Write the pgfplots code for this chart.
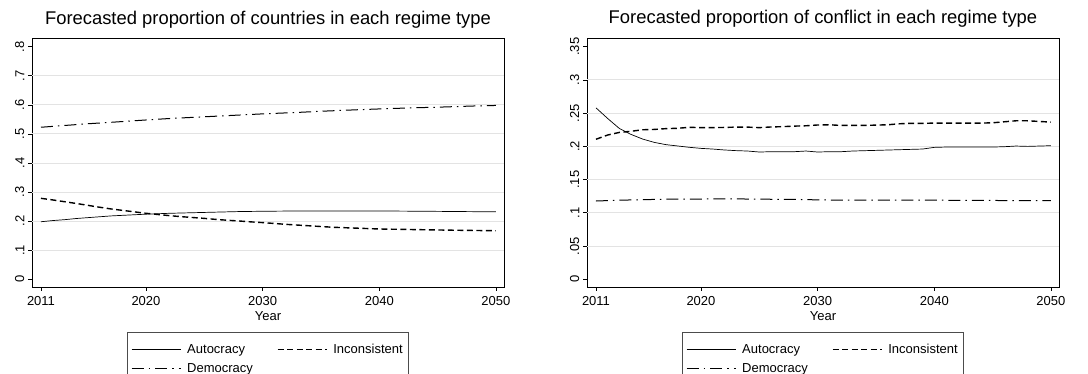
\documentclass[border=0pt]{standalone}
\usepackage{pgfplots}
\pgfplotsset{compat=1.18}
\usepackage{fontspec}
\setmainfont{Liberation Sans}
\begin{document}
\begin{tikzpicture}[x=1pt,y=1pt]
\useasboundingbox (0,0) rectangle (1088,374);
\pgfplotsset{
  every axis/.style={
    scale only axis, anchor=south west,
    width=472pt, height=249pt,
    axis line style={black, line width=0.9pt},
    /pgf/number format/assume math mode=true,
    font=\fontsize{13}{14}\selectfont,
    tick style={black, line width=0.7pt},
    major tick length=4pt,
    tick align=outside,
    xtick pos=bottom, ytick pos=left,
    xmin=2010.23, xmax=2050.69,
    xtick={2011,2020,2030,2040,2050},
    xticklabels={2011,2020,2030,2040,2050},
    xticklabel style={inner sep=1pt, yshift=-4pt},
    yticklabel style={rotate=90, anchor=south, inner sep=3.5pt},
    xlabel={Year},
    xlabel style={inner sep=0pt, yshift=-5pt},
    title style={font=\fontsize{18.4}{20}\selectfont, at={(0.5,1)}, anchor=base, yshift=8pt},
    extra y tick style={grid=major, major tick length=0pt, tick style={draw=none}},
    grid style={gray!22, line width=1pt},
    legend columns=2,
    legend cell align=left,
    legend style={at={(0.5,-0.18)}, anchor=north, draw=black!70, line width=0.8pt,
      fill=white, font=\fontsize{13}{14}\selectfont, inner xsep=4pt, inner ysep=10pt,
      row sep=4pt,
      nodes={inner sep=2pt},
      /tikz/every odd column/.append style={column sep=4pt},
      /tikz/every even column/.append style={column sep=22pt}},
    legend image code/.code={\draw[#1] (0pt,0pt) -- (49pt,0pt);},
  },
  auto/.style={black, line width=0.7pt},
  inco/.style={black, line width=1.4pt, dash pattern=on 6pt off 3.5pt},
  demo/.style={black, line width=1pt, dash pattern=on 12pt off 5pt on 1.5pt off 5pt},
}
% ---------------- left ----------------
\begin{axis}[
  at={(32pt,87pt)},
  ymin=-0.0265, ymax=0.830,
  ytick={0,0.1,0.2,0.3,0.4,0.5,0.6,0.7,0.8},
  yticklabels={0,.1,.2,.3,.4,.5,.6,.7,.8},
  extra y ticks={0.1,0.2,0.3,0.4,0.5,0.6,0.7},
  extra y tick labels={},
  title={Forecasted proportion of countries in each regime type},
]
\addplot[auto] coordinates {(2011,0.198)(2012,0.202)(2013,0.205)(2014,0.209)(2015,0.212)(2016,0.215)(2017,0.218)(2018,0.220)(2019,0.222)(2020,0.224)(2022,0.227)(2024,0.229)(2026,0.231)(2028,0.233)(2030,0.234)(2033,0.235)(2036,0.235)(2040,0.235)(2044,0.234)(2047,0.233)(2050,0.232)};
\addlegendentry{Autocracy}
\addplot[inco] coordinates {(2011,0.2785)(2012,0.273)(2013,0.267)(2014,0.261)(2015,0.2545)(2016,0.248)(2017,0.242)(2018,0.237)(2019,0.232)(2020,0.227)(2021,0.223)(2022,0.219)(2023,0.2155)(2024,0.2125)(2025,0.2095)(2026,0.206)(2027,0.203)(2028,0.2005)(2029,0.1975)(2030,0.195)(2032,0.189)(2034,0.184)(2036,0.179)(2038,0.176)(2040,0.173)(2043,0.171)(2046,0.169)(2050,0.167)};
\addlegendentry{Inconsistent}
\addplot[demo] coordinates {(2011,0.523)(2013,0.529)(2015,0.535)(2017,0.540)(2020,0.548)(2022,0.553)(2025,0.559)(2028,0.565)(2030,0.569)(2033,0.574)(2035,0.578)(2038,0.583)(2040,0.586)(2043,0.590)(2045,0.592)(2048,0.596)(2050,0.598)};
\addlegendentry{Democracy}
\end{axis}
% ---------------- right ----------------
\begin{axis}[
  at={(587pt,87pt)},
  ymin=-0.0116, ymax=0.3631,
  ytick={0,0.05,0.1,0.15,0.2,0.25,0.3,0.35},
  yticklabels={0,.05,.1,.15,.2,.25,.3,.35},
  extra y ticks={0.05,0.1,0.15,0.2,0.25,0.3},
  extra y tick labels={},
  title={Forecasted proportion of conflict in each regime type},
]
\addplot[auto] coordinates {(2011,0.258)(2012,0.242)(2013,0.227)(2014,0.218)(2015,0.211)(2016,0.206)(2017,0.2026)(2018,0.2006)(2019,0.1986)(2020,0.197)(2021,0.196)(2022,0.1946)(2023,0.1936)(2024,0.193)(2025,0.1915)(2026,0.192)(2027,0.192)(2028,0.192)(2029,0.193)(2030,0.1915)(2031,0.192)(2032,0.192)(2033,0.193)(2034,0.1935)(2035,0.194)(2036,0.1945)(2037,0.195)(2038,0.1955)(2039,0.196)(2040,0.1985)(2041,0.199)(2042,0.199)(2043,0.199)(2044,0.1992)(2045,0.199)(2046,0.1995)(2047,0.2005)(2048,0.200)(2049,0.2005)(2050,0.201)};
\addlegendentry{Autocracy}
\addplot[inco] coordinates {(2011,0.2107)(2012,0.2171)(2013,0.221)(2014,0.2227)(2015,0.225)(2016,0.2255)(2017,0.2267)(2018,0.2272)(2019,0.2287)(2020,0.2282)(2021,0.2282)(2022,0.2285)(2023,0.229)(2024,0.229)(2025,0.2282)(2026,0.2292)(2027,0.2297)(2028,0.2305)(2029,0.231)(2030,0.2322)(2031,0.2325)(2032,0.2315)(2033,0.2315)(2034,0.2315)(2035,0.232)(2036,0.2325)(2037,0.234)(2038,0.2347)(2039,0.2347)(2040,0.235)(2041,0.235)(2042,0.235)(2043,0.235)(2044,0.235)(2045,0.2355)(2046,0.237)(2047,0.2385)(2048,0.2385)(2049,0.2375)(2050,0.2365)};
\addlegendentry{Inconsistent}
\addplot[demo] coordinates {(2011,0.1178)(2013,0.119)(2015,0.1198)(2017,0.1205)(2020,0.1208)(2023,0.121)(2025,0.1205)(2028,0.1203)(2030,0.1195)(2033,0.119)(2036,0.119)(2040,0.119)(2043,0.1188)(2046,0.1185)(2050,0.1182)};
\addlegendentry{Democracy}
\end{axis}
\end{tikzpicture}
\end{document}
